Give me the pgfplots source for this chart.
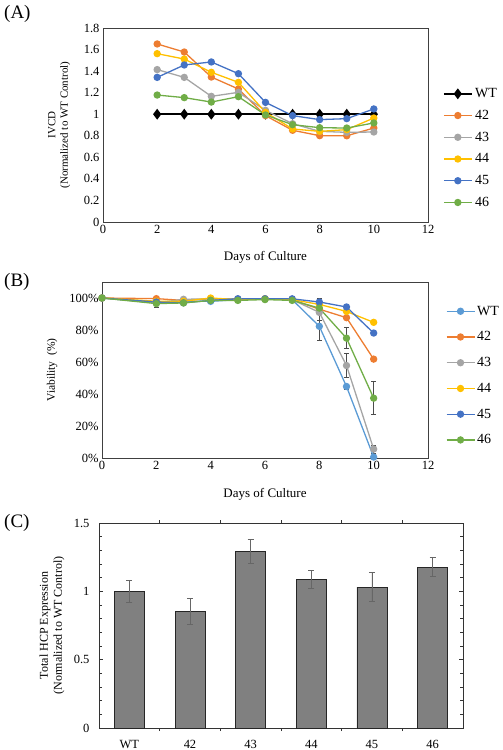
\documentclass[border=0pt]{standalone}
\usepackage{pgfplots}
\pgfplotsset{compat=1.18}
\usepackage{fontspec}
\setmainfont{Liberation Serif}
\definecolor{cwt}{HTML}{5B9BD5}
\definecolor{c42}{HTML}{ED7D31}
\definecolor{c43}{HTML}{A5A5A5}
\definecolor{c44}{HTML}{FFC000}
\definecolor{c45}{HTML}{4472C4}
\definecolor{c46}{HTML}{70AD47}
\pgfplotsset{
  lgline/.style={legend image code/.code={\draw[mark repeat=2,mark phase=2] plot coordinates {(0pt,0pt)(14pt,0pt)(28pt,0pt)};}},
  ser/.style={color=#1, line width=1.3pt, mark=*, mark size=3pt, mark options={solid, fill=#1}},
  common/.style={
    /pgf/number format/assume math mode=true,
    tick label style={font=\fontsize{12.5}{14}\selectfont},
    xlabel style={font=\fontsize{13}{15}\selectfont},
  },
}
\begin{document}
\begin{tikzpicture}[x=1pt,y=1pt]
\path[use as bounding box] (0,0) rectangle (503,-750);
\node[anchor=west, font=\fontsize{19}{21}\selectfont, inner sep=0pt] at (4,-14) {(A)};
\node[anchor=west, font=\fontsize{19}{21}\selectfont, inner sep=0pt] at (4,-282) {(B)};
\node[anchor=west, font=\fontsize{19}{21}\selectfont, inner sep=0pt] at (4,-523) {(C)};

% Panel A
\begin{axis}[common, at={(103pt,-222pt)}, anchor=south west, scale only axis,
  width=325pt, height=194pt, xmin=0, xmax=12, ymin=0, ymax=1.8,
  xtick={0,2,4,6,8,10,12}, ytick={0,0.2,0.4,0.6,0.8,1,1.2,1.4,1.6,1.8},
  major tick length=0pt, axis line style={black!75, line width=0.9pt},
  xlabel={Days of Culture},
  xlabel style={at={(axis description cs:0.5,-0.18)}, anchor=center},
  ylabel={IVCD\\(Normalized to WT Control)},
  ylabel style={align=center, font=\fontsize{11}{12.5}\selectfont, at={(axis description cs:-0.135,0.5)}, anchor=center},
  legend style={at={(axis description cs:1.035,0.71)}, anchor=north west, draw=none, fill=none,
    font=\fontsize{14}{16}\selectfont, row sep=7pt},
  legend cell align=left, lgline,
]
\addplot[color=black, line width=2.5pt, mark=diamond*, mark size=3.4pt, mark options={solid,fill=black}] coordinates {(2,1)(3,1)(4,1)(5,1)(6,1)(7,1)(8,1)(9,1)(10,1)};
\addlegendentry{WT}
\addplot[ser=c42] coordinates {(2,1.652)(3,1.577)(4,1.345)(5,1.234)(6,0.987)(7,0.851)(8,0.801)(9,0.800)(10,0.872)};
\addlegendentry{42}
\addplot[ser=c43] coordinates {(2,1.414)(3,1.342)(4,1.166)(5,1.203)(6,1.036)(7,0.912)(8,0.841)(9,0.832)(10,0.835)};
\addlegendentry{43}
\addplot[ser=c44] coordinates {(2,1.562)(3,1.512)(4,1.389)(5,1.296)(6,1.018)(7,0.863)(8,0.841)(9,0.857)(10,0.965)};
\addlegendentry{44}
\addplot[ser=c45] coordinates {(2,1.342)(3,1.457)(4,1.485)(5,1.376)(6,1.110)(7,0.987)(8,0.950)(9,0.959)(10,1.049)};
\addlegendentry{45}
\addplot[ser=c46] coordinates {(2,1.178)(3,1.154)(4,1.113)(5,1.163)(6,0.993)(7,0.903)(8,0.875)(9,0.872)(10,0.919)};
\addlegendentry{46}
\end{axis}

% Panel B
\begin{axis}[common, at={(102pt,-458pt)}, anchor=south west, scale only axis,
  width=326pt, height=176pt, xmin=0, xmax=12, ymin=0, ymax=110,
  xtick={0,2,4,6,8,10,12}, ytick={0,20,40,60,80,100},
  yticklabel={\pgfmathprintnumber{\tick}\%},
  major tick length=0pt, axis line style={black!75, line width=0.9pt},
  xlabel={Days of Culture},
  xlabel style={at={(axis description cs:0.5,-0.205)}, anchor=center},
  ylabel={Viability~~(\%)},
  ylabel style={font=\fontsize{11.5}{13}\selectfont, at={(axis description cs:-0.153,0.5)}, anchor=center},
  legend style={at={(axis description cs:1.045,0.888)}, anchor=north west, draw=none, fill=none,
    font=\fontsize{14}{16}\selectfont, row sep=11pt},
  legend cell align=left, lgline,
]
\addplot[draw=none, mark=none, forget plot, error bars/.cd, y dir=both, y explicit,
  error bar style={draw=black!70, line width=0.7pt}, error mark options={rotate=90, mark size=2.5pt, draw=black!70, line width=0.7pt}]
  coordinates {(2,96.5)+-(0,2.5) (8,82.3)+-(0,8.7) (8,97.5)+-(0,2.2) (8,91)+-(0,5) (9,57.8)+-(0,7.3) (9,74.9)+-(0,6.5) (9,44.7)+-(0,1.5) (10,37.4)+-(0,10.3) (10,5.6)+-(0,2.5)};
\addplot[ser=cwt] coordinates {(0,100)(2,97)(3,98)(4,97.9)(5,99)(6,99.5)(7,99)(8,82.3)(9,44.7)(10,0.6)};
\addlegendentry{WT}
\addplot[ser=c42] coordinates {(0,100)(2,99.6)(3,98.5)(4,99.5)(5,99)(6,99.5)(7,99)(8,93)(9,87.7)(10,61.8)};
\addlegendentry{42}
\addplot[ser=c43] coordinates {(0,100)(2,97)(3,99.2)(4,99.5)(5,99.5)(6,99.5)(7,99)(8,91)(9,57.8)(10,5.6)};
\addlegendentry{43}
\addplot[ser=c44] coordinates {(0,100)(2,98)(3,98)(4,100)(5,99)(6,99.5)(7,99)(8,96)(9,91.6)(10,84.8)};
\addlegendentry{44}
\addplot[ser=c45] coordinates {(0,100)(2,97.5)(3,97)(4,98.5)(5,99.5)(6,99.5)(7,99.5)(8,97.5)(9,94.4)(10,78.1)};
\addlegendentry{45}
\addplot[ser=c46] coordinates {(0,100)(2,96.5)(3,96.9)(4,98.5)(5,98.5)(6,99)(7,98.5)(8,93.7)(9,74.9)(10,37.4)};
\addlegendentry{46}
\end{axis}

% Panel C
\begin{axis}[common, at={(99pt,-728pt)}, anchor=south west, scale only axis,
  width=364pt, height=205pt, xmin=-0.5, xmax=5.5, ymin=0, ymax=1.5,
  xtick={0,1,2,3,4,5}, xticklabels={WT,42,43,44,45,46},
  minor xtick={0.5,1.5,2.5,3.5,4.5},
  ytick={0,0.5,1,1.5}, minor ytick={0.1,0.2,0.3,0.4,0.6,0.7,0.8,0.9,1.1,1.2,1.3,1.4},
  tick align=inside, xtick pos=both, ytick pos=both,
  major x tick style={draw=none},
  major tick length=4pt, minor tick length=3pt,
  tick style={black!80, line width=0.6pt},
  axis line style={black!80, line width=0.9pt},
  yticklabel style={xshift=-6pt},
  xticklabel style={yshift=-5pt},
  ylabel={Total HCP Expression\\(Normalized to WT Control)},
  ylabel style={align=center, font=\fontsize{12}{14}\selectfont, at={(axis description cs:-0.129,0.5)}, anchor=center},
  ybar, bar width=30pt,
]
\addplot[fill=gray, draw=black!85, line width=0.8pt, error bars/.cd, y dir=both, y explicit,
  error bar style={black!60, line width=0.8pt}, error mark options={rotate=90, mark size=3pt, black!60, line width=0.8pt}]
  coordinates {(0,1.002)+-(0,0.08) (1,0.853)+-(0,0.098) (2,1.293)+-(0,0.085) (3,1.089)+-(0,0.067) (4,1.031)+-(0,0.105) (5,1.177)+-(0,0.07)};
\end{axis}
\end{tikzpicture}
\end{document}
